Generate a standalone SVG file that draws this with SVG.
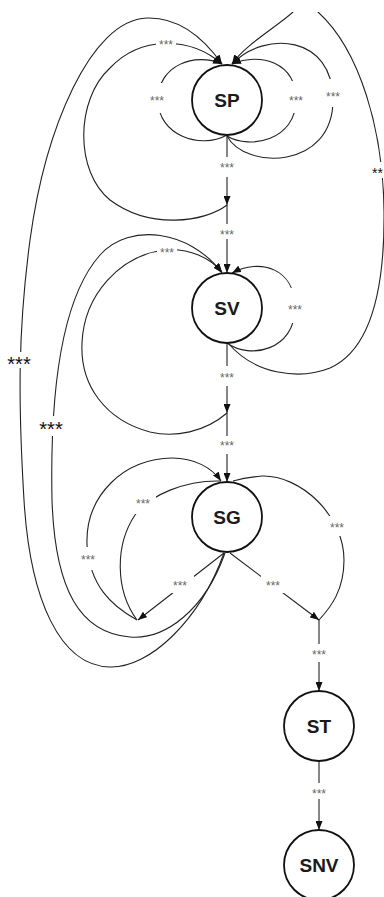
<svg xmlns="http://www.w3.org/2000/svg" width="384" height="897" viewBox="0 0 384 897">
<style>
.e{fill:none;stroke:#222;stroke-width:1.1}
.a{marker-end:url(#ah)}
.n{fill:#fff;stroke:#111;stroke-width:1.8}
.t{font-family:"Liberation Sans",Arial,sans-serif;font-weight:bold;font-size:19px;fill:#1a1a1a;text-anchor:middle}
.bg{fill:#fff}
.l{font-family:"Liberation Sans",Arial,sans-serif;font-size:12px;fill:#666;text-anchor:middle}
.lb{font-family:"Liberation Sans",Arial,sans-serif;font-size:20px;fill:#111;text-anchor:middle}
.lm{font-family:"Liberation Sans",Arial,sans-serif;font-size:14px;fill:#111;text-anchor:middle}
</style>
<defs>
<marker id="ah" viewBox="0 0 9 7" refX="9" refY="3.5" markerWidth="9" markerHeight="7" markerUnits="userSpaceOnUse" orient="auto"><path d="M0,0 L9,3.5 L0,7 z" fill="#111"/></marker>
<clipPath id="top"><rect x="0" y="12" width="384" height="885"/></clipPath>
</defs>
<rect width="384" height="897" fill="#fff"/>
<g id="connectors">
<path class="e a" d="M224,553 C200,620 150,668 110,667 C60,666 30,600 24,500 C18,400 18,330 30,240 C45,130 90,20 147,18 C180,17 205,40 222,64"/>
<path class="e a" d="M227,205 C205,222 150,230 110,200 C75,172 75,100 110,68 C140,36 190,36 222,64"/>
<path class="e a" d="M227,135 C200,150 158,135 158,100 C158,65 195,52 222,64"/>
<path class="e a" clip-path="url(#top)" d="M228,343 C255,375 300,380 330,368 C370,350 385,290 384,210 C383,130 360,50 318,12 C305,0 300,0 293,12 C275,28 245,45 232,64"/>
<path class="e a" d="M227,136 C245,170 333,170 333,100 C333,35 265,30 232,64"/>
<path class="e a" d="M227,136 C250,150 296,140 296,100 C296,62 260,52 232,64"/>
<path class="e a" d="M225,553 C205,610 165,640 130,637 C80,633 55,590 52,500 C50,400 60,300 100,255 C130,222 190,230 222,273"/>
<path class="e a" d="M227,413 C205,432 175,438 150,432 C105,420 80,385 82,343 C84,295 120,255 165,250 C190,248 210,258 222,272"/>
<path class="e a" d="M227,343 C250,360 295,350 295,308 C295,268 260,258 232,273"/>
<path class="e a" d="M227,135 L227,205"/>
<path class="e a" d="M227,205 L227,273"/>
<path class="e a" d="M227,343 L227,413"/>
<path class="e a" d="M227,413 L227,482"/>
<path class="e a" d="M137,620 C110,605 90,585 87,545 C85,495 125,458 172,458 C195,458 212,468 221,481"/>
<path class="e" d="M221,481 C185,480 150,495 135,515 C115,545 115,590 137,620"/>
<path class="e a" d="M224,553 L138,620"/>
<path class="e a" d="M230,553 L319,620"/>
<path class="e" d="M319,620 C331,607 344,590 344,560 C344,515 300,475 262,476 C250,477 240,479 233,481"/>
<path class="e a" d="M319,620 L319,691"/>
<path class="e a" d="M319,761 L319,830"/>
<g id="labels">
<rect class="bg" x="156" y="35" width="20" height="14"/><text class="l" x="166" y="49">***</text>
<rect class="bg" x="149" y="83" width="16" height="30"/><text class="l" x="157" y="105">***</text>
<rect class="bg" x="288" y="81" width="16" height="32"/><text class="l" x="296" y="105">***</text>
<rect class="bg" x="325" y="79" width="16" height="28"/><text class="l" x="333" y="101">***</text>
<rect class="bg" x="218" y="157" width="18" height="20"/><text class="l" x="227" y="172">***</text>
<rect class="bg" x="218" y="224" width="18" height="15"/><text class="l" x="227" y="239">***</text>
<rect class="bg" x="157" y="244" width="20" height="12"/><text class="l" x="167" y="257">***</text>
<rect class="bg" x="287" y="288" width="16" height="35"/><text class="l" x="295" y="314">***</text>
<rect class="bg" x="218" y="366" width="18" height="20"/><text class="l" x="227" y="382">***</text>
<rect class="bg" x="218" y="436" width="18" height="18"/><text class="l" x="227" y="450">***</text>
<rect class="bg" x="133" y="494" width="23" height="20"/><text class="l" x="143" y="508">***</text>
<rect class="bg" x="80" y="547" width="16" height="23"/><text class="l" x="88" y="564">***</text>
<rect class="bg" x="329" y="516" width="17" height="20"/><text class="l" x="337" y="532">***</text>
<rect class="bg" x="169" y="573" width="25" height="20"/><text class="l" x="180" y="590">***</text>
<rect class="bg" x="261" y="573" width="25" height="20"/><text class="l" x="273" y="590">***</text>
<rect class="bg" x="310" y="644" width="18" height="18"/><text class="l" x="319" y="659">***</text>
<rect class="bg" x="310" y="783" width="18" height="16"/><text class="l" x="319" y="798">***</text>
<rect class="bg" x="6" y="352" width="27" height="16"/><text class="lb" x="19" y="371">***</text>
<rect class="bg" x="37" y="416" width="27" height="20"/><text class="lb" x="51" y="436">***</text>
<rect class="bg" x="370" y="162" width="14" height="16"/><text class="lm" x="377.5" y="178">**</text>
</g>
</g>
<g id="SP"><circle class="n" cx="227" cy="100" r="35"/><text class="t" x="227" y="107">SP</text></g>
<g id="SV"><circle class="n" cx="227" cy="308" r="35"/><text class="t" x="227" y="315">SV</text></g>
<g id="SG"><circle class="n" cx="227" cy="517" r="35"/><text class="t" x="227" y="524">SG</text></g>
<g id="ST"><circle class="n" cx="319" cy="726" r="35"/><text class="t" x="319" y="733">ST</text></g>
<g id="SNV"><circle class="n" cx="319" cy="865" r="35"/><text class="t" x="319" y="872">SNV</text></g>
</svg>
